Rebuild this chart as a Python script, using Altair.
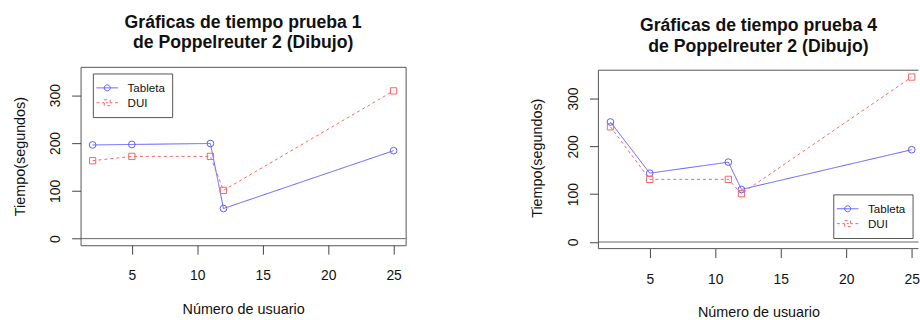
import altair as alt
import pandas as pd

# ---- data ----
users = [2, 5, 11, 12, 25]
series_names = ["Tableta", "DUI"]

tableta_p1 = [196, 197, 199, 63, 184]
dui_p1 = [163, 172, 172, 101, 309]

tableta_p4 = [251, 144, 167, 110, 193]
dui_p4 = [241, 131, 131, 101, 345]

titles = [
    ["Gráficas de tiempo prueba 1", " de Poppelreuter 2 (Dibujo)"],
    ["Gráficas de tiempo prueba 4", " de Poppelreuter 2 (Dibujo)"],
]
x_ticks = [5, 10, 15, 20, 25]
y_ticks = [0, 50, 100, 150, 200, 250, 300, 350]

FONT = "Liberation Sans"
BLUE = "#5c5cff"
RED = "#ff6262"
BOX = "#555"

X_MIN = 1.08
Y_MIN, Y_MAX = -13.8, 359.3

LEG_TAB = "M-1.55,0L1.55,0M0.43,0A0.43,0.43,0,1,1,-0.43,0A0.43,0.43,0,1,1,0.43,0"
LEG_DUI = ("M-1.55,0L-1.12,0M-0.75,0L-0.43,0M0.43,0L0.75,0M1.12,0L1.55,0"
           "M-0.43,-0.43L0.43,-0.43L0.43,0.43L-0.43,0.43ZM-0.15,0L0.15,0")


def make_df(tab, dui):
    rows = []
    for u, v in zip(users, tab):
        rows.append({"usuario": u, "tiempo": v, "serie": "Tableta"})
    for u, v in zip(users, dui):
        rows.append({"usuario": u, "tiempo": v, "serie": "DUI"})
    return pd.DataFrame(rows)


def legend_params(leg_x, leg_y):
    return alt.Legend(
        title=None, orient="none", legendX=leg_x, legendY=leg_y,
        padding=7, rowPadding=-0.7, labelOffset=13, labelFont=FONT,
        labelFontSize=11.7, labelColor="#111", strokeColor=BOX,
        fillColor="white", symbolStrokeWidth=1, symbolOpacity=1,
        symbolSize=196)


def panel(tab, dui, title, leg_x, leg_y, width, height, x_max, y_top,
          title_dy, own_box):
    df = make_df(tab, dui)
    xs = alt.Scale(domain=[X_MIN, x_max], nice=False, zero=False)
    ys = alt.Scale(domain=[Y_MIN, y_top], nice=False, zero=False)
    color_scale = alt.Scale(domain=series_names, range=[BLUE, RED])
    x_enc = alt.X("usuario:Q", scale=xs, title="Número de usuario",
                  axis=alt.Axis(values=x_ticks, format="d"))
    y_enc = alt.Y("tiempo:Q", scale=ys, title="Tiempo(segundos)",
                  axis=alt.Axis(values=y_ticks,
                                labelExpr="datum.value % 100 === 0 ? datum.label : ''"))
    base = alt.Chart(df).encode(x=x_enc, y=y_enc)
    legend_layer = base.transform_filter("false").mark_point(
        filled=False, size=196, strokeWidth=1, opacity=1
    ).encode(
        color=alt.Color("serie:N", scale=color_scale, legend=legend_params(leg_x, leg_y)),
        shape=alt.Shape("serie:N", scale=alt.Scale(domain=series_names,
                                                   range=[LEG_TAB, LEG_DUI]),
                        legend=legend_params(leg_x, leg_y)),
    )
    lines = base.mark_line(strokeWidth=1).encode(
        color=alt.Color("serie:N", scale=color_scale, legend=None),
        strokeDash=alt.StrokeDash("serie:N",
                                  scale=alt.Scale(domain=series_names, range=[[1, 0], [3, 3]]),
                                  legend=None),
    )
    pts_tab = base.transform_filter(alt.datum.serie == "Tableta").mark_point(
        shape="circle", filled=False, size=46, strokeWidth=1, opacity=1
    ).encode(color=alt.Color("serie:N", scale=color_scale, legend=None))
    pts_dui = base.transform_filter(alt.datum.serie == "DUI").mark_point(
        shape="square", filled=False, size=40, strokeWidth=1, opacity=1
    ).encode(color=alt.Color("serie:N", scale=color_scale, legend=None))
    zero = alt.Chart(pd.DataFrame({"cero": [0]})).mark_rule(
        color="#666", strokeWidth=1).encode(y=alt.Y("cero:Q", scale=ys))
    layers = [legend_layer, zero, lines, pts_tab, pts_dui]
    props = dict(
        width=width, height=height,
        title=alt.TitleParams(title, font=FONT, fontSize=17.8, fontWeight="bold",
                              color="#111", anchor="middle", offset=15,
                              lineHeight=20.8, dy=title_dy),
    )
    if own_box:
        box_src = alt.Chart(pd.DataFrame({"a": [0]}))
        top = box_src.mark_rule(color=BOX, strokeWidth=1).encode(
            y=alt.Y("ytop:Q", scale=ys)).transform_calculate(ytop=str(Y_MAX))
        bottom = box_src.mark_rule(color=BOX, strokeWidth=1).encode(
            y=alt.Y("ybot:Q", scale=ys)).transform_calculate(ybot=str(Y_MIN))
        side = box_src.mark_rule(color=BOX, strokeWidth=1).encode(
            x=alt.X("xl:Q", scale=xs), y=alt.Y("ybot:Q", scale=ys), y2="ytop:Q"
        ).transform_calculate(xl=str(X_MIN), ybot=str(Y_MIN), ytop=str(Y_MAX))
        layers += [top, bottom, side]
        props["view"] = alt.ViewBackground(stroke=None)
    return alt.layer(*layers).properties(**props)


left = panel(tableta_p1, dui_p1, titles[0], 12.4, 6.7, 328, 180, 25.92, Y_MAX, 0, False)
right = panel(tableta_p4, dui_p4, titles[1], 237, 128.7, 323, 183.4, 25.52,
              Y_MAX + 3.4 / 0.4833, 3.4, True)

chart = alt.hconcat(left, right, spacing=124.5).resolve_scale(
    color="independent", shape="independent", strokeDash="independent"
).resolve_legend(
    color="independent", shape="independent", strokeDash="independent"
).properties(
    padding={"left": 11.3, "top": 11, "right": 0, "bottom": 0}
).configure_view(
    stroke=BOX, strokeWidth=1
).configure_axis(
    domain=False, grid=False, tickSize=9, tickColor="#444", tickWidth=1,
    labelFont=FONT, labelFontSize=14, labelColor="#111",
    titleFont=FONT, titleFontSize=14.5, titleFontWeight="normal", titleColor="#111",
).configure_axisX(
    labelPadding=15, titlePadding=20, labelBaseline="top"
).configure_axisY(
    labelAngle=-90, labelAlign="center", labelBaseline="alphabetic",
    labelPadding=12, titlePadding=22,
)

chart.save("out.html", embed_options={"renderer": "svg", "actions": False})
